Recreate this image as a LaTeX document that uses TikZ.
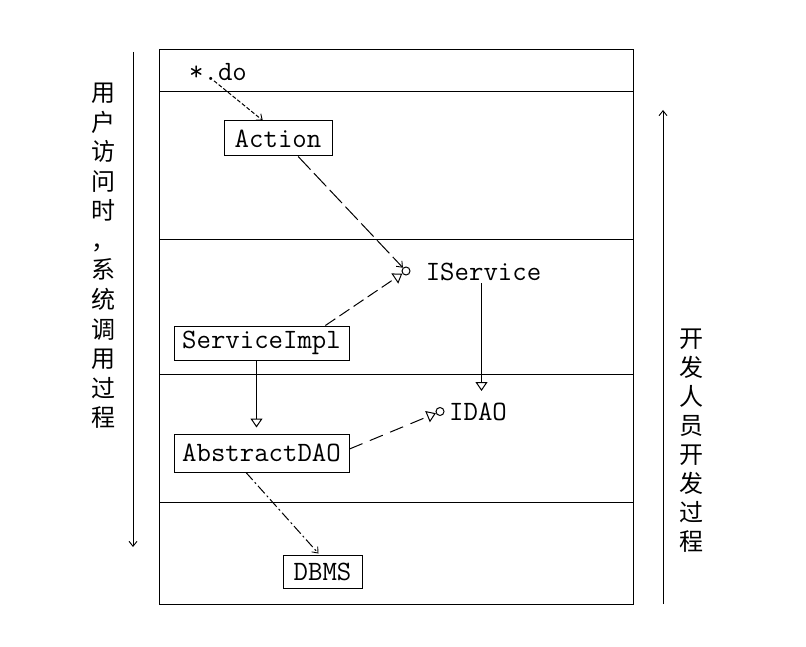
\documentclass[tikz,border=0pt]{standalone}
\usepackage{fontspec}
\newfontfamily\cjk{Noto Sans CJK SC}
\usetikzlibrary{arrows.meta,calc}
\tikzset{
  cls/.style={draw, line width=1pt, rectangle, inner sep=0pt, font=\fontsize{28}{30}\selectfont\ttfamily},
  lbl/.style={inner sep=2pt, font=\fontsize{28}{30}\selectfont\ttfamily},
  lolly/.style={draw, line width=1pt, circle, minimum size=8pt, inner sep=0pt},
  ln/.style={line width=1pt},
  stick/.style={-{Straight Barb[length=5pt,width=8pt,line width=0.9pt]}},
  gen/.style={-{Triangle[open,length=9pt,width=12pt,line width=1pt]}},
  vchar/.style={inner sep=0pt, text height=20pt, text depth=2pt, font=\fontsize{24}{24}\selectfont\cjk}
}
\begin{document}
\begin{tikzpicture}[x=1pt,y=-1pt]
\useasboundingbox (0,0) rectangle (806,647);
% frame
\draw[ln] (159,50) rectangle (633,604);
\foreach \yy in {92,240,374,502} \draw[ln] (159,\yy) -- (633,\yy);
% side arrows
\coordinate (la1) at (133,52);
\coordinate (la2) at (133,547);
\draw[ln,stick] (la1) -- (la2);
\coordinate (ra1) at (663,604);
\coordinate (ra2) at (663,110);
\draw[ln,stick] (ra1) -- (ra2);
% side texts
\foreach \c [count=\i] in {用,户,访,问,时,，,系,统,调,用,过,程}
  \node[vchar] (lt\i) at (103,{93+(\i-1)*29.5}) {\c};
\foreach \c [count=\i] in {开,发,人,员,开,发,过,程}
  \node[vchar] (rt\i) at (691,{338+(\i-1)*29}) {\c};
% nodes
\node[lbl] (do) at (218,72) {*.do};
\node[cls, minimum width=108pt, minimum height=35pt] (action) at (278,138.5) {Action};
\node[lolly] (isc) at (406,271) {};
\node[lbl] (is) at (483.5,272) {IService};
\node[cls, minimum width=175pt, minimum height=34pt] (si) at (261.5,343) {ServiceImpl};
\node[lolly] (idc) at (440,411.5) {};
\node[lbl] (idao) at (478,412) {IDAO};
\node[cls, minimum width=175pt, minimum height=38pt] (ad) at (261.5,453) {AbstractDAO};
\node[cls, minimum width=79pt, minimum height=33pt] (dbms) at (322.5,571.5) {DBMS};
\coordinate (idaotop) at (481.5,391);
% connectors
\draw[ln, stick, dash pattern=on 4pt off 2pt] ($(do.south)+(-4,-2)$) -- ($(action.north west)!0.36!(action.north east)$);
\draw[ln, stick, dash pattern=on 18pt off 5pt] ($(action.south west)!0.685!(action.south east)$) -- (isc);
\draw[ln, gen, dash pattern=on 12pt off 5pt] ($(si.north west)!0.863!(si.north east)$) -- (isc);
\draw[ln, gen] (is.south -| idaotop) -- (idaotop);
\draw[ln, gen] ($(si.south)+(-5,0)$) -- ($(ad.north)+(-5,-6)$);
\draw[ln, gen, dash pattern=on 14pt off 8pt] ($(ad.east)+(0,-4)$) -- (idc);
\draw[ln, stick, dash pattern=on 10pt off 3pt on 2pt off 3pt] ($(ad.south)+(-15.5,0)$) -- ($(dbms.north)+(-4,-1)$);
\end{tikzpicture}
\end{document}
